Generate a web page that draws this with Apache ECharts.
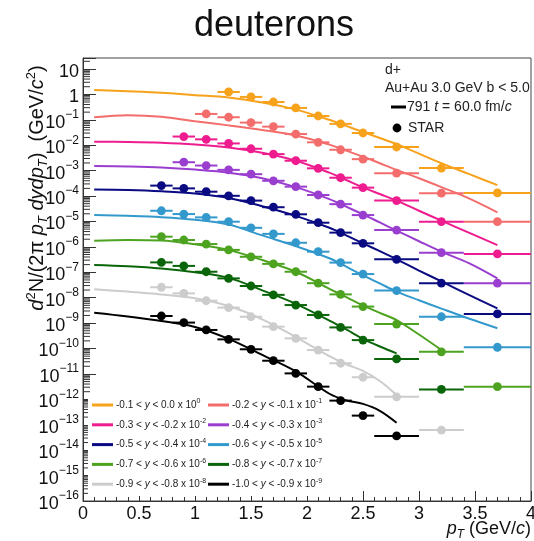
<!DOCTYPE html>
<html><head><meta charset="utf-8">
<script src="https://cdn.jsdelivr.net/npm/echarts@6/dist/echarts.min.js"></script>
<style>html,body{margin:0;padding:0;background:#fff}#c{width:534px;height:541px}</style>
</head><body><div id="c"></div>
<script>
// ---- pT bins of the STAR points ----
const ptCenter = [0.7, 0.9, 1.1, 1.3, 1.5, 1.7, 1.9, 2.1, 2.3, 2.5, 2.8, 3.2, 3.7];
const ptLow    = [0.6, 0.8, 1.0, 1.2, 1.4, 1.6, 1.8, 2.0, 2.2, 2.4, 2.6, 3.0, 3.4];
const ptHigh   = [0.8, 1.0, 1.2, 1.4, 1.6, 1.8, 2.0, 2.2, 2.4, 2.6, 3.0, 3.4, 4.0];
// ---- pT grid of the model curves ----
const curvePt  = [0.1, 0.4, 0.7, 1.0, 1.3, 1.6, 1.9, 2.2, 2.35, 2.5, 2.65, 2.8, 3.0, 3.2, 3.45, 3.7];

// ---- rapidity bins, scale exponents, colours ----
const yLow   = ['-0.1', '-0.2', '-0.3', '-0.4', '-0.5', '-0.6', '-0.7', '-0.8', '-0.9', '-1.0'];
const yHigh  = ['0.0', '-0.1', '-0.2', '-0.3', '-0.4', '-0.5', '-0.6', '-0.7', '-0.8', '-0.9'];
const scaleExp = [0, -1, -2, -3, -4, -5, -6, -7, -8, -9];
const colors = ['#F7A21B', '#F46D6D', '#EE1C8E', '#9A3ED0', '#0A0A82', '#3399CC', '#4DA320', '#0A650A', '#CCCCCC', '#000000'];

// ---- STAR data (unscaled), one per rapidity bin, aligned with ptCenter ----
const star0 = [null, null, null, 1.245, 0.794, 0.501, 0.292, 0.141, 0.0692, 0.0302, 0.00851, 0.00126, 0.000132];
const star1 = [null, null, 1.70, 1.26, 0.776, 0.537, 0.275, 0.130, 0.0661, 0.0282, 0.00794, 0.00129, 0.0000977];
const star2 = [null, 2.19, 1.70, 1.175, 0.724, 0.447, 0.245, 0.123, 0.0525, 0.0214, 0.00661, 0.000977, 0.0000525];
const star3 = [null, 2.14, 1.585, 1.07, 0.724, 0.398, 0.234, 0.110, 0.0479, 0.0178, 0.00457, 0.000589, 0.0000372];
const star4 = [2.57, 2.00, 1.48, 1.02, 0.661, 0.363, 0.191, 0.0891, 0.0363, 0.0138, 0.00324, 0.000372, 0.0000229];
const star5 = [2.63, 1.95, 1.445, 0.977, 0.562, 0.324, 0.145, 0.0646, 0.0240, 0.00851, 0.00191, 0.000178, 0.0000112];
const star6 = [2.51, 1.86, 1.29, 0.759, 0.407, 0.214, 0.105, 0.0372, 0.0135, 0.00447, 0.000912, 0.0000741, 0.00000316];
const star7 = [2.45, 1.78, 1.05, 0.575, 0.288, 0.129, 0.0513, 0.0209, 0.00676, 0.00214, 0.000389, 0.0000245, null];
const star8 = [2.57, 1.48, 0.759, 0.407, 0.178, 0.0724, 0.0251, 0.00871, 0.00263, 0.000741, 0.000126, 0.00000617, null];
const star9 = [1.905, 1.047, 0.537, 0.229, 0.0933, 0.0331, 0.0105, 0.00316, 0.000891, 0.000229, 0.0000363, null, null];

// ---- model (791, t = 60 fm/c) curves (unscaled), aligned with curvePt ----
const model0 = [1.479, 1.318, 1.148, 0.933, 0.759, 0.479, 0.251, 0.100, 0.0575, 0.0331, 0.0191, 0.01096, 0.00468, 0.00195, 0.000724, 0.000269];
const model1 = [1.259, 1.514, 1.318, 0.871, 0.603, 0.398, 0.240, 0.105, 0.0617, 0.0355, 0.0195, 0.0107, 0.00501, 0.00224, 0.000794, 0.000229];
const model2 = [1.380, 1.349, 1.259, 1.072, 0.813, 0.501, 0.245, 0.0832, 0.0427, 0.0219, 0.0120, 0.00661, 0.00263, 0.00107, 0.000355, 0.000117];
const model3 = [1.514, 1.445, 1.318, 1.096, 0.832, 0.501, 0.224, 0.0759, 0.0380, 0.0191, 0.00912, 0.00437, 0.00166, 0.000646, 0.000224, 0.0000575];
const model4 = [1.820, 1.738, 1.549, 1.259, 0.832, 0.398, 0.166, 0.0562, 0.0282, 0.0138, 0.00676, 0.00324, 0.00117, 0.000437, 0.000126, 0.0000380];
const model5 = [1.778, 1.660, 1.479, 1.175, 0.759, 0.282, 0.107, 0.0355, 0.0166, 0.00759, 0.00363, 0.00174, 0.000794, 0.000372, 0.000148, 0.0000631];
const model6 = [1.738, 1.862, 1.778, 1.259, 0.759, 0.302, 0.105, 0.0224, 0.0105, 0.00501, 0.00251, 0.00132, 0.000355, 0.0000871, null, null];
const model7 = [1.950, 1.738, 1.413, 1.000, 0.603, 0.195, 0.0575, 0.0126, 0.00562, 0.00240, 0.00120, 0.000646, null, null, null, null];
const model8 = [2.138, 1.738, 1.349, 0.955, 0.468, 0.141, 0.0282, 0.00501, 0.00240, 0.00132, 0.000525, 0.000148, null, null, null, null];
const model9 = [2.570, 1.820, 1.202, 0.708, 0.240, 0.0562, 0.0126, 0.00166, 0.000912, 0.000661, 0.000355, 0.000120, null, null, null, null];

const starAll  = [star0, star1, star2, star3, star4, star5, star6, star7, star8, star9];
const modelAll = [model0, model1, model2, model3, model4, model5, model6, model7, model8, model9];

const FONT = "'Liberation Sans', Arial, Helvetica, sans-serif";
const chart = echarts.init(document.getElementById('c'), null, {renderer: 'canvas'});

const series = [];
for (let i = 0; i < 10; i++) {
  const f = Math.pow(10, scaleExp[i]);
  const lineData = [];
  modelAll[i].forEach((v, j) => { if (v != null) lineData.push([curvePt[j], v * f]); });
  series.push({
    type: 'line', name: 'model ' + i, data: lineData, smooth: 0.35,
    showSymbol: false, symbol: 'none', silent: true, z: 3,
    lineStyle: {color: colors[i], width: 2}
  });
  const ptData = [];
  starAll[i].forEach((v, j) => { if (v != null) ptData.push([ptCenter[j], v * f, ptLow[j], ptHigh[j]]); });
  const col = colors[i];
  series.push({
    type: 'custom', name: 'STAR ' + i, data: ptData, z: 4, silent: true,
    encode: {x: [0, 2, 3], y: 1},
    renderItem: function (params, api) {
      const y = api.value(1);
      const p = api.coord([api.value(0), y]);
      const pl = api.coord([api.value(2), y]);
      const ph = api.coord([api.value(3), y]);
      return {type: 'group', children: [
        {type: 'line', shape: {x1: pl[0], y1: p[1], x2: ph[0], y2: p[1]}, style: {stroke: col, lineWidth: 2}},
        {type: 'circle', shape: {cx: p[0], cy: p[1], r: 4.4}, style: {fill: col}}
      ]};
    }
  });
}

// log minor ticks on the y axis (2..9 x 10^n)
const yMinorTicks = [];
for (let e = -16; e <= 1; e++) for (let k = 2; k <= 9; k++) { const v = k * Math.pow(10, e); if (v < 27) yMinorTicks.push([0, v]); }
series.push({
  type: 'custom', name: 'yminor', data: yMinorTicks, silent: true, z: 1, encode: {x: 0, y: 1},
  renderItem: function (params, api) {
    const p = api.coord([0, api.value(1)]);
    return {type: 'line', shape: {x1: p[0], y1: p[1], x2: p[0] + 7, y2: p[1]}, style: {stroke: '#333', lineWidth: 1}};
  }
});

// ---- legends ----
const graphics = [];
graphics.push({type: 'rect', z: 100, shape: {x: 88, y: 394, width: 236, height: 102}, style: {fill: '#fff'}});
const legRich = {
  n: {fontSize: 10, fontFamily: FONT, fill: '#222'},
  i: {fontSize: 10, fontFamily: FONT, fontStyle: 'italic', fill: '#222'},
  s: {fontSize: 7, fontFamily: FONT, fill: '#222', padding: [0, 0, 7, 0]}
};
for (let i = 0; i < 10; i++) {
  const colI = i % 2, row = Math.floor(i / 2);
  const lx = colI === 0 ? 92 : 208;
  const ly = 405 + row * 19.8;
  graphics.push({type: 'line', z: 101, shape: {x1: lx, y1: ly, x2: lx + 21, y2: ly}, style: {stroke: colors[i], lineWidth: 3}});
  graphics.push({type: 'text', z: 101, x: lx + 24, y: ly, style: {
    text: '{n|' + yLow[i] + ' < }{i|y}{n| < ' + yHigh[i] + ' x 10}{s|' + scaleExp[i] + '}',
    rich: legRich, textAlign: 'left', textVerticalAlign: 'middle'}});
}
const trRich = {
  n: {fontSize: 14, fontFamily: FONT, fill: '#222'},
  i: {fontSize: 14, fontFamily: FONT, fontStyle: 'italic', fill: '#222'}
};
graphics.push({type: 'text', z: 101, x: 385, y: 70, style: {text: '{n|d+}', rich: trRich, textVerticalAlign: 'middle'}});
graphics.push({type: 'text', z: 101, x: 385, y: 88, style: {text: '{n|Au+Au 3.0 GeV b < 5.0}', rich: trRich, textVerticalAlign: 'middle'}});
graphics.push({type: 'line', z: 101, shape: {x1: 391, y1: 107, x2: 406, y2: 107}, style: {stroke: '#000', lineWidth: 3}});
graphics.push({type: 'text', z: 101, x: 407, y: 107, style: {text: '{n|791 }{i|t}{n| = 60.0 fm/}{i|c}', rich: trRich, textVerticalAlign: 'middle'}});
graphics.push({type: 'circle', z: 101, shape: {cx: 397, cy: 128, r: 4.4}, style: {fill: '#000'}});
graphics.push({type: 'text', z: 101, x: 408, y: 128, style: {text: '{n|STAR}', rich: trRich, textVerticalAlign: 'middle'}});

// axis titles
const axRich = {
  n: {fontSize: 20, fontFamily: FONT, fill: '#111'},
  i: {fontSize: 20, fontFamily: FONT, fontStyle: 'italic', fill: '#111'},
  sup: {fontSize: 13, fontFamily: FONT, fill: '#111', padding: [0, 0, 12, 0]},
  sub: {fontSize: 13, fontFamily: FONT, fontStyle: 'italic', fill: '#111', padding: [12, 0, 0, 0]}
};
const xRich = {
  n: {fontSize: 18, fontFamily: FONT, fill: '#111'},
  i: {fontSize: 18, fontFamily: FONT, fontStyle: 'italic', fill: '#111'},
  sub: {fontSize: 12, fontFamily: FONT, fontStyle: 'italic', fill: '#111', padding: [12, 0, 0, 0]}
};
graphics.push({type: 'text', z: 101, x: 37, y: 188, rotation: Math.PI / 2, style: {
  text: '{i|d}{sup|2}{n|N/(2π }{i|p}{sub|T}{n| }{i|dydp}{sub|T}{n|)  (GeV/}{i|c}{sup|2}{n|)}',
  rich: axRich, textAlign: 'center', textVerticalAlign: 'middle'}});
graphics.push({type: 'text', z: 101, x: 531, y: 529, style: {
  text: '{i|p}{sub|T}{n| (GeV/}{i|c}{n|)}',
  rich: xRich, textAlign: 'right', textVerticalAlign: 'middle'}});

const option = {
  animation: false,
  backgroundColor: '#fff',
  title: {text: 'deuterons', left: 194, top: 8, padding: 0,
    textStyle: {fontSize: 36, fontWeight: 'normal', fontFamily: FONT, color: '#111'}},
  grid: {left: 83, right: 3, top: 58, bottom: 40, show: true, borderColor: '#444', borderWidth: 1,
    containLabel: false, outerBoundsMode: 'none'},
  xAxis: {
    type: 'value', min: 0, max: 4, interval: 0.5,
    axisLine: {show: true, lineStyle: {color: '#333', width: 1}},
    axisTick: {show: true, inside: true, length: 10, lineStyle: {color: '#333'}},
    minorTick: {show: true, splitNumber: 5, length: 4, lineStyle: {color: '#333'}},
    splitLine: {show: false},
    axisLabel: {fontSize: 18, fontFamily: FONT, color: '#111', margin: 4}
  },
  yAxis: {
    type: 'log', logBase: 10, min: 1e-16, max: 27, interval: 1, splitNumber: 18,
    axisLine: {show: true, lineStyle: {color: '#333', width: 1}},
    axisTick: {show: true, inside: true, length: 13, lineStyle: {color: '#333'}},
    splitLine: {show: false},
    axisLabel: {
      margin: 4, color: '#111',
      formatter: function (v) {
        const e = Math.log10(v), r = Math.round(e);
        if (Math.abs(e - r) > 1e-6) return '';
        if (r === 1) return '{b|10}';
        if (r === 0) return '{b|1}';
        return '{b|10}{s|' + (r < 0 ? '−' : '') + Math.abs(r) + '}';
      },
      rich: {
        b: {fontSize: 18, fontFamily: FONT, color: '#111', padding: [6, 0, 0, 0]},
        s: {fontSize: 12, fontFamily: FONT, color: '#111', padding: [0, 0, 10, 0]}
      }
    }
  },
  graphic: {elements: graphics},
  series: series
};
chart.setOption(option);
</script></body></html>
